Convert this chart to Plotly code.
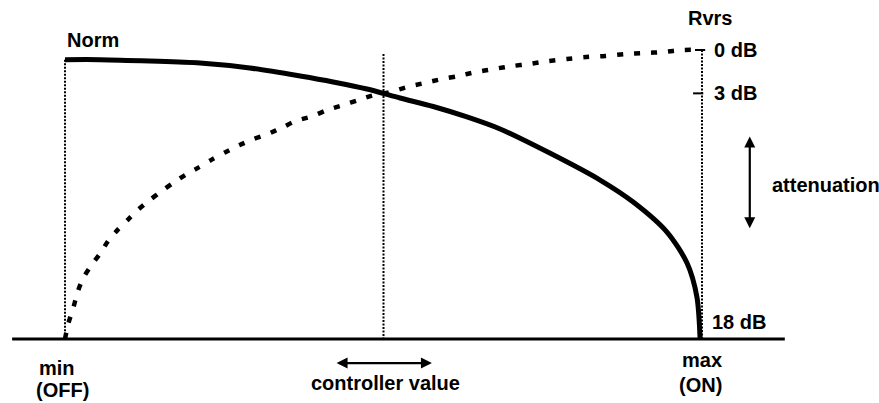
import plotly.graph_objects as go

# Controller position (0 = min/OFF, 1 = max/ON) and attenuation in dB (0 top, 18 bottom)
norm_x = [0.0, 0.055, 0.133, 0.212, 0.29, 0.369, 0.421, 0.474, 0.526, 0.578, 0.631, 0.683,
          0.761, 0.840, 0.892, 0.945, 0.9765, 0.992, 0.997]
norm_db = [0.6, 0.6, 0.685, 0.81, 1.12, 1.62, 1.99, 2.43, 2.99, 3.52, 4.17, 4.92,
           6.42, 8.10, 9.47, 11.34, 13.27, 15.38, 18.0]

rvrs_x = [0.0, 0.005, 0.013, 0.020, 0.028, 0.042, 0.055, 0.068, 0.083, 0.099, 0.115, 0.132,
          0.151, 0.171, 0.190, 0.210, 0.231, 0.251, 0.273, 0.295, 0.317, 0.342, 0.361, 0.388,
          0.411, 0.436, 0.46, 0.485, 0.51, 0.537, 0.564, 0.592, 0.617, 0.645, 0.672, 0.702,
          0.728, 0.758, 0.788, 0.818, 0.848, 0.879, 0.909, 0.939, 0.970, 1.0]
rvrs_db = [18.0, 17.06, 16.06, 15.06, 14.25, 13.38, 12.69, 11.88, 11.19, 10.56, 9.94, 9.38,
           8.81, 8.25, 7.75, 7.31, 6.81, 6.38, 5.94, 5.56, 5.25, 4.81, 4.44, 4.125,
           3.75, 3.44, 3.125, 2.81, 2.625, 2.31, 2.06, 1.81, 1.625, 1.375, 1.19, 1.0,
           0.875, 0.69, 0.56, 0.44, 0.375, 0.25, 0.19, 0.125, 0.0, 0.0]

# Guide lines
marker_x = [0.0, 0.5, 1.0]          # min, controller value, max
marker_top_db = [0.6, 0.25, 0.0]
floor_db = 18.0
baseline_x = [-0.083, 1.13]

tick_db = [0.0, 2.7, 18.0]
tick_labels = ["0 dB", "3 dB", "18 dB"]

BLACK = "#000000"
FONT = dict(family="Liberation Sans, Arial, Helvetica, sans-serif", size=20, color=BLACK)

fig = go.Figure()

# Baseline
fig.add_trace(go.Scatter(x=baseline_x, y=[floor_db, floor_db], mode="lines",
                         line=dict(color=BLACK, width=3), hoverinfo="skip"))

# Dotted vertical guides
for mx, top in zip(marker_x, marker_top_db):
    fig.add_trace(go.Scatter(x=[mx, mx], y=[top, floor_db], mode="lines",
                             line=dict(color=BLACK, width=2, dash="2px,1.5px"), hoverinfo="skip"))

# Small ticks on the max guide (0 dB and 3 dB)
fig.add_trace(go.Scatter(x=[0.989, 1.005], y=[tick_db[0], tick_db[0]], mode="lines",
                         line=dict(color=BLACK, width=2), hoverinfo="skip"))
fig.add_trace(go.Scatter(x=[0.986, 1.002], y=[tick_db[1], tick_db[1]], mode="lines",
                         line=dict(color=BLACK, width=2), hoverinfo="skip"))

# Rvrs (dashed) curve
fig.add_trace(go.Scatter(x=rvrs_x, y=rvrs_db, mode="lines",
                         line=dict(color=BLACK, width=4.5, dash="6px,11px", shape="spline",
                                   smoothing=0.8),
                         hoverinfo="skip"))

# Norm (solid) curve
fig.add_trace(go.Scatter(x=norm_x, y=norm_db, mode="lines",
                         line=dict(color=BLACK, width=5, shape="spline", smoothing=0.8),
                         hoverinfo="skip"))

annotations = []


def label(text, x, y, xanchor="left"):
    annotations.append(dict(text=text, x=x, y=y, xref="x", yref="y", showarrow=False,
                            xanchor=xanchor, yanchor="middle", font=FONT))


label("<b>Norm</b>", 0.0, -0.62)
label("<b>Rvrs</b>", 1.0126, -1.99, "center")
label("<b>" + tick_labels[0] + "</b>", 1.0157, tick_db[0])
label("<b>" + tick_labels[1] + "</b>", 1.0157, tick_db[1])
label("<b>" + tick_labels[2] + "</b>", 1.0126, 16.94)
label("<b>attenuation</b>", 1.1068, 8.41)
label("<b>min</b>", -0.0126, 19.81, "center")
label("<b>(OFF)</b>", -0.0047, 21.18, "center")
label("<b>controller value</b>", 0.5024, 20.74, "center")
label("<b>max</b>", 1.0, 19.31, "center")
label("<b>(ON)</b>", 0.997, 20.86, "center")

# Double-headed arrows
annotations.append(dict(x=1.075, y=11.1, ax=1.075, ay=5.3, xref="x", yref="y",
                        axref="x", ayref="y", text="", showarrow=True,
                        arrowhead=2, startarrowhead=2, arrowside="end+start",
                        arrowsize=1, arrowwidth=2.2, arrowcolor=BLACK))
annotations.append(dict(x=0.576, y=19.5, ax=0.424, ay=19.5, xref="x", yref="y",
                        axref="x", ayref="y", text="", showarrow=True,
                        arrowhead=2, startarrowhead=2, arrowside="end+start",
                        arrowsize=1, arrowwidth=2.2, arrowcolor=BLACK))

fig.update_layout(
    width=879, height=403,
    margin=dict(l=0, r=0, t=0, b=0),
    paper_bgcolor="white", plot_bgcolor="white",
    showlegend=False,
    annotations=annotations,
    xaxis=dict(range=[-0.10204, 1.27786], visible=False, fixedrange=True),
    yaxis=dict(range=[21.986, -3.114], visible=False, fixedrange=True),
)

fig.write_html("out.html",
               config={"displayModeBar": False, "staticPlot": True},
               post_script="document.body.style.margin='0';document.body.style.padding='0';")
